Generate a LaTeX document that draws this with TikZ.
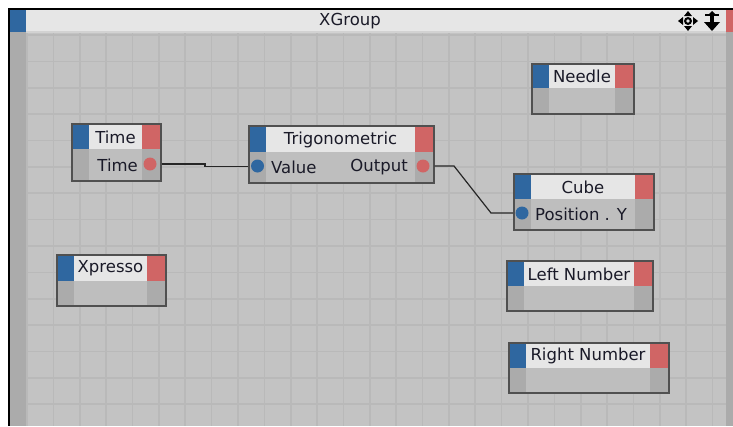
\documentclass[tikz,border=0pt]{standalone}
\usepackage{fontspec}
\setmainfont{DejaVu Sans}
\definecolor{canvasc}{HTML}{C3C3C3}
\definecolor{gridc}{HTML}{B9B9B9}
\definecolor{stripc}{HTML}{ABABAB}
\definecolor{headc}{HTML}{E6E6E6}
\definecolor{barline}{HTML}{D2D2D2}
\definecolor{bodyc}{HTML}{BEBEBE}
\definecolor{colc}{HTML}{ABABAB}
\definecolor{inblue}{HTML}{2F67A0}
\definecolor{outred}{HTML}{D06565}
\definecolor{framec}{HTML}{505050}
\definecolor{txtc}{HTML}{1A1A28}
\tikzset{
  nodebox/.style={draw=framec, line width=1.5pt, inner sep=0pt, fill=none},
  titletext/.style={inner sep=0pt, text=txtc, font=\fontsize{16.5}{19}\selectfont},
  porttext/.style={inner sep=0pt, text=txtc, font=\fontsize{16.5}{19}\selectfont},
  inport/.style={circle, fill=inblue, inner sep=0pt, minimum size=13pt},
  outport/.style={circle, fill=outred, inner sep=0pt, minimum size=13pt},
  wire/.style={draw=black!85, line width=1.2pt},
}
% #1 name, #2 x, #3 y, #4 width, #5 header height, #6 total height, #7 title
\newcommand\xpnode[7]{%
  \fill[bodyc] (#2,#3) rectangle ++(#4,#6);
  \fill[colc] (#2,#3) rectangle ++(18,#6);
  \fill[colc] ({#2+#4-18},#3) rectangle ++(18,#6);
  \fill[headc] ({#2+18},#3) rectangle ({#2+#4-18},{#3+#5});
  \fill[inblue] (#2,#3) rectangle ++(18,#5);
  \fill[outred] ({#2+#4-18},#3) rectangle ++(18,#5);
  \node[nodebox, minimum width=#4pt, minimum height=#6pt, anchor=north west] (#1) at (#2,#3) {};
  \node[titletext] (#1-title) at ({#2+#4/2},{#3+#5/2+1}) {#7};
}
\begin{document}
\begin{tikzpicture}[x=1pt,y=-1pt]
\useasboundingbox (0,0) rectangle (733,426);
\fill[white] (0,0) rectangle (733,426);
% canvas
\fill[canvasc] (9,9) rectangle (733,426);
\foreach \k in {0,...,26} {\fill[gridc] ({27+26.37*\k-0.8},32) rectangle ({27+26.37*\k+0.8},426);}
\foreach \k in {0,...,14} {\fill[gridc] (26,{35+26.37*\k-0.8}) rectangle (726,{35+26.37*\k+0.8});}
% side strips
\fill[stripc] (9,32) rectangle (26,426);
\fill[stripc] (726,32) rectangle (733,426);
% title bar
\fill[headc] (9,9) rectangle (733,32);
\fill[barline] (26,31) rectangle (726,33);
\fill[inblue] (9,9) rectangle (26,32);
\fill[outred] (726,9) rectangle (733,32);
\node[titletext] (xgroup) at (350,21) {XGroup};
% outer frame
\fill[black] (8,8) rectangle (733,10);
\fill[black] (8,8) rectangle (10,426);
% move icon
\begin{scope}[shift={(688,21)}]
  \fill[black] (0,0) circle (4);
  \fill[headc] (0,0) circle (1.8);
  \fill[black] (0,-10) -- (-4,-5) -- (4,-5) -- cycle;
  \fill[black] (0,10) -- (-4,5) -- (4,5) -- cycle;
  \fill[black] (-10,0) -- (-5,-4) -- (-5,4) -- cycle;
  \fill[black] (10,0) -- (5,-4) -- (5,4) -- cycle;
\end{scope}
% up/down icon
\begin{scope}[shift={(712,21)}]
  \fill[black] (-7,-7) rectangle (7,-5);
  \fill[black] (0,-10) -- (-3,-7) -- (3,-7) -- cycle;
  \fill[black] (-1.8,-5) rectangle (1.8,2);
  \fill[black] (0,10) -- (-8,1) -- (8,1) -- cycle;
\end{scope}
% nodes
\xpnode{time}{71}{123}{89}{26}{57}{Time}
\xpnode{trig}{248}{125}{185}{27}{57}{Trigonometric}
\xpnode{cube}{513}{173}{140}{26}{56}{Cube}
\xpnode{needle}{531}{63}{102}{25}{50}{Needle}
\xpnode{leftnum}{506}{260}{146}{26}{50}{Left Number}
\xpnode{rightnum}{508}{342}{160}{26}{50}{Right Number}
\xpnode{xpresso}{56}{254}{109}{27}{51}{Xpresso}
% ports
\node[outport] (time-out) at (150,164) {};
\node[porttext, anchor=east] (time-outl) at (138,165) {Time};
\node[inport] (trig-in) at (257.5,166) {};
\node[porttext, anchor=west] (trig-inl) at (271,167) {Value};
\node[outport] (trig-out) at (423,166) {};
\node[porttext, anchor=east] (trig-outl) at (408,167) {Output};
\node[inport] (cube-in) at (522,213) {};
\node[porttext, anchor=west] (cube-inl) at (535,214) {Position . Y};
% wires
\coordinate (w1) at (205,164);
\coordinate (w2) at (205,166.3);
\draw[wire] (time.east |- time-out) -- (w1) -- (w2) -- (trig.west |- w2);
\coordinate (w3) at (454,166);
\coordinate (w4) at (491,213);
\draw[wire] (trig.east |- trig-out) -- (w3) -- (w4) -- (cube.west |- cube-in);
\end{tikzpicture}
\end{document}
